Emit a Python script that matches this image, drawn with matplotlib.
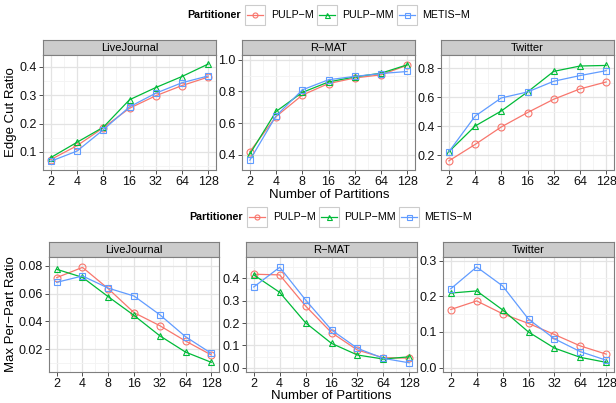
import matplotlib
matplotlib.use('Agg')
import matplotlib.pyplot as plt
import matplotlib.ticker as mticker
from matplotlib.patches import Rectangle

plt.rcParams['font.family'] = ['Liberation Sans', 'DejaVu Sans']

# figure size in pixels (dpi 100)
W, H = 616, 403

partitions = [2, 4, 8, 16, 32, 64, 128]
partitioners = ['PULP−M', 'PULP−MM', 'METIS−M']
datasets = ['LiveJournal', 'R−MAT', 'Twitter']

# edge cut ratio (top figure)
edge_lj_pulp_m = [0.073, 0.122, 0.185, 0.254, 0.298, 0.334, 0.364]
edge_lj_pulp_mm = [0.080, 0.134, 0.187, 0.284, 0.327, 0.366, 0.410]
edge_lj_metis_m = [0.067, 0.103, 0.178, 0.259, 0.307, 0.344, 0.368]

edge_rmat_pulp_m = [0.421, 0.642, 0.777, 0.850, 0.885, 0.905, 0.965]
edge_rmat_pulp_mm = [0.406, 0.674, 0.794, 0.860, 0.892, 0.915, 0.968]
edge_rmat_metis_m = [0.367, 0.646, 0.810, 0.874, 0.895, 0.913, 0.926]

edge_tw_pulp_m = [0.160, 0.273, 0.394, 0.493, 0.585, 0.656, 0.704]
edge_tw_pulp_mm = [0.223, 0.400, 0.504, 0.635, 0.777, 0.814, 0.818]
edge_tw_metis_m = [0.223, 0.468, 0.594, 0.635, 0.709, 0.748, 0.782]

# max per-part ratio (bottom figure)
part_lj_pulp_m = [0.0716, 0.0790, 0.0636, 0.0463, 0.0369, 0.0258, 0.0157]
part_lj_pulp_mm = [0.0776, 0.0718, 0.0578, 0.0443, 0.0296, 0.0178, 0.0104]
part_lj_metis_m = [0.0682, 0.0728, 0.0640, 0.0583, 0.0448, 0.0289, 0.0169]

part_rmat_pulp_m = [0.418, 0.415, 0.276, 0.157, 0.079, 0.045, 0.043]
part_rmat_pulp_mm = [0.415, 0.337, 0.201, 0.109, 0.057, 0.039, 0.049]
part_rmat_metis_m = [0.361, 0.449, 0.303, 0.169, 0.087, 0.042, 0.022]

part_tw_pulp_m = [0.163, 0.187, 0.151, 0.124, 0.093, 0.061, 0.038]
part_tw_pulp_mm = [0.209, 0.215, 0.162, 0.100, 0.055, 0.029, 0.015]
part_tw_metis_m = [0.221, 0.282, 0.229, 0.136, 0.081, 0.045, 0.021]

colors = ['#F8766D', '#00BA38', '#619CFF']
markers = ['o', '^', 's']

fig = plt.figure(figsize=(W / 100, H / 100), dpi=100)


def px_axes(x0, y0, x1, y1):
    # axes from pixel box, y measured from the top
    return fig.add_axes([x0 / W, 1 - y1 / H, (x1 - x0) / W, (y1 - y0) / H])


def draw_panel(box, name, series, ylim, yticks, fmt):
    x0, y0, x1, y1 = box
    strip = px_axes(x0, y0 - 15, x1, y0)
    strip.set_facecolor('#CCCCCC')
    strip.set_xticks([])
    strip.set_yticks([])
    for s in strip.spines.values():
        s.set_color('#7F7F7F')
        s.set_linewidth(0.8)
    strip.text(0.5, 0.45, name, ha='center', va='center', fontsize=8,
               transform=strip.transAxes)

    ax = px_axes(x0, y0, x1, y1)
    for vals, c, m in zip(series, colors, markers):
        ax.plot(partitions, vals, color=c, lw=0.9, marker=m, ms=5,
                mfc='none', mec=c, mew=0.8, zorder=3)
    ax.set_xscale('log', base=2)
    ax.set_xlim(2 / 2 ** 0.3, 128 * 2 ** 0.3)
    ax.set_xticks(partitions)
    ax.set_xticklabels([str(p) for p in partitions])
    ax.set_xticks([2 ** (k + 1.5) for k in range(6)], minor=True)
    ax.xaxis.set_minor_formatter(mticker.NullFormatter())
    ax.set_ylim(*ylim)
    ax.set_yticks(yticks)
    step = yticks[1] - yticks[0]
    minor = [yticks[0] - step / 2] + [t + step / 2 for t in yticks]
    ax.set_yticks([v for v in minor if ylim[0] < v < ylim[1]], minor=True)
    ax.yaxis.set_major_formatter(mticker.FormatStrFormatter(fmt))
    ax.grid(which='major', color='#E3E3E3', lw=0.9)
    ax.grid(which='minor', color='#F3F3F3', lw=0.6)
    ax.set_axisbelow(True)
    ax.tick_params(which='major', length=3, width=0.6, color='#333333',
                   labelsize=9, pad=1.5, labelcolor='#111111')
    ax.tick_params(which='minor', length=0)
    for s in ax.spines.values():
        s.set_color('#7F7F7F')
        s.set_linewidth(0.8)
    return ax


# top row
draw_panel((43, 55, 216, 170), datasets[0],
           [edge_lj_pulp_m, edge_lj_pulp_mm, edge_lj_metis_m],
           (0.036, 0.442), [0.1, 0.2, 0.3, 0.4], '%.1f')
draw_panel((242, 55, 415, 170), datasets[1],
           [edge_rmat_pulp_m, edge_rmat_pulp_mm, edge_rmat_metis_m],
           (0.305, 1.03), [0.4, 0.6, 0.8, 1.0], '%.1f')
draw_panel((441, 55, 614, 170), datasets[2],
           [edge_tw_pulp_m, edge_tw_pulp_mm, edge_tw_metis_m],
           (0.097, 0.89), [0.2, 0.4, 0.6, 0.8], '%.1f')

# bottom row
draw_panel((49, 257, 219, 372), datasets[0],
           [part_lj_pulp_m, part_lj_pulp_mm, part_lj_metis_m],
           (0.0034, 0.0865), [0.02, 0.04, 0.06, 0.08], '%.2f')
draw_panel((246, 257, 417, 372), datasets[1],
           [part_rmat_pulp_m, part_rmat_pulp_mm, part_rmat_metis_m],
           (-0.019, 0.495), [0.0, 0.1, 0.2, 0.3, 0.4], '%.1f')
draw_panel((443, 257, 614, 372), datasets[2],
           [part_tw_pulp_m, part_tw_pulp_mm, part_tw_metis_m],
           (-0.012, 0.31), [0.0, 0.1, 0.2, 0.3], '%.1f')

# overlay in pixel units for legends and axis titles
lax = fig.add_axes([0, 0, 1, 1])
lax.set_xlim(0, W)
lax.set_ylim(H, 0)
lax.axis('off')
lax.patch.set_alpha(0)


def draw_legend(dx, cy):
    lax.text(187 + dx, cy, 'Partitioner', fontsize=7.7, fontweight='bold',
             ha='left', va='center')
    box_left = [245, 317, 397]
    text_left = [271, 342, 422]
    for name, c, m, bl, tl in zip(partitioners, colors, markers, box_left, text_left):
        bl += dx
        tl += dx
        lax.add_patch(Rectangle((bl, cy - 10), 20, 20, facecolor='white',
                                edgecolor='#CCCCCC', lw=0.8))
        lax.plot([bl + 2, bl + 18], [cy, cy], color=c, lw=0.9)
        lax.plot([bl + 10], [cy], marker=m, ms=3.6, mfc='none', mec=c, mew=0.8)
        lax.text(tl, cy, name, fontsize=7.7, ha='left', va='center')


draw_legend(0, 15)
draw_legend(2, 217)

lax.text(329, 195, 'Number of Partitions', fontsize=9.5, ha='center', va='center')
lax.text(331, 396, 'Number of Partitions', fontsize=9.5, ha='center', va='center')
lax.text(11, 112, 'Edge Cut Ratio', fontsize=9.5, rotation=90, ha='center', va='center')
lax.text(11, 314, 'Max Per−Part Ratio', fontsize=9.5, rotation=90, ha='center', va='center')

fig.savefig('out.png', dpi=100)
